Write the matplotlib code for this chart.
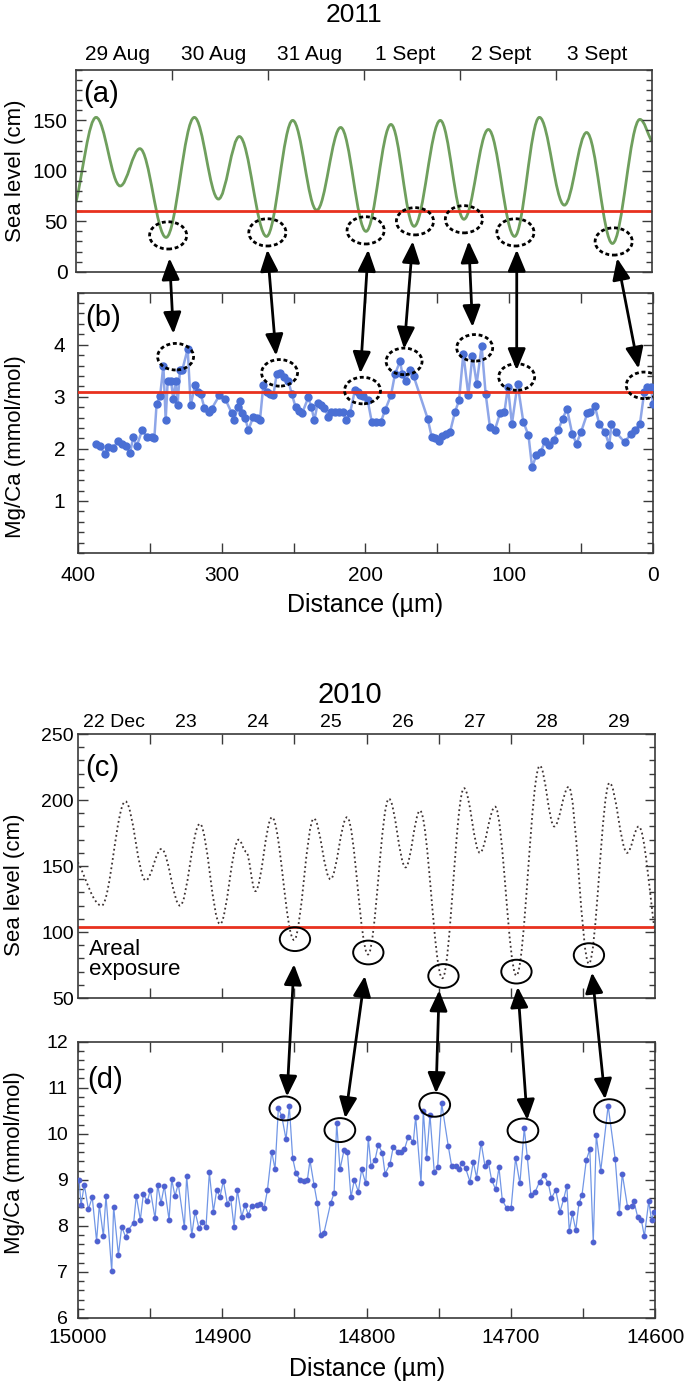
import matplotlib
matplotlib.use("Agg")
import matplotlib.pyplot as plt
import matplotlib.transforms as mtransforms
from matplotlib.path import Path
from matplotlib.patches import PathPatch, Ellipse, ConnectionPatch
from matplotlib.ticker import MultipleLocator, FixedLocator

plt.rcParams['font.family'] = ['Liberation Sans', 'DejaVu Sans']

# ---- 2011: tide turning points (days from 29 Aug 00:00, cm)
a_day = [0.0, 0.209, 0.46, 0.665, 0.938, 1.233, 1.484, 1.702, 1.985, 2.258,
         2.508, 2.758, 3.022, 3.282, 3.523, 3.796, 4.042, 4.297, 4.57, 4.829,
         5.089, 5.321, 5.59, 5.876, 6.0]
a_level = [69, 153, 85, 122, 34, 153, 72, 134, 35, 150,
           61, 143, 40, 146, 45, 150, 52, 141, 35, 153,
           66, 138, 28, 151, 129]
a_dates = ['29 Aug', '30 Aug', '31 Aug', '1 Sept', '2 Sept', '3 Sept']

# ---- 2011: Mg/Ca profile
b_dist = [387.6, 384.6, 381.1, 378.8, 375.3, 371.8, 369.5, 366.7, 363.7, 361.4,
          359.1, 355.1, 352.1, 348.6, 346.8, 345.2, 342.8, 340.5, 338.9, 337.5,
          335.2, 333.6, 332.0, 330.6, 329.0, 327.3, 323.6, 321.5, 318.5, 316.2,
          314.6, 312.0, 308.8, 306.9, 301.5, 297.5, 293.0, 291.2, 288.8, 287.2,
          285.6, 283.7, 281.4, 278.0, 275.6, 273.3, 271.0, 268.7, 266.4, 264.0,
          261.7, 259.4, 256.4, 253.6, 251.3, 248.5, 246.2, 243.9, 239.7, 237.6,
          235.5, 233.2, 230.9, 228.6, 225.8, 224.0, 221.1, 218.4, 215.4, 213.7,
          210.7, 207.2, 205.4, 203.8, 201.4, 198.4, 195.6, 192.9, 189.2, 186.4,
          182.2, 179.4, 175.9, 174.3, 172.0, 169.0, 166.5, 156.7, 153.9, 151.6,
          148.8, 146.5, 144.2, 141.2, 137.7, 134.9, 131.9, 128.4, 125.6, 122.6,
          119.2, 116.4, 113.4, 109.9, 106.4, 103.3, 100.9, 98.1, 94.2, 90.2,
          86.6, 84.1, 81.1, 78.1, 75.0, 72.0, 69.0, 65.9, 62.9, 59.8,
          56.2, 53.2, 50.1, 45.6, 43.5, 40.4, 37.4, 33.4, 30.4, 28.9,
          25.8, 19.8, 15.2, 12.2, 9.1, 6.1, 4.0, 1.5, 0.0]
b_mgca = [2.10, 2.05, 1.90, 2.04, 2.02, 2.16, 2.09, 2.05, 1.92, 2.23,
          2.05, 2.37, 2.23, 2.22, 2.20, 2.87, 3.01, 3.60, 2.56, 3.30,
          3.31, 2.95, 3.31, 2.85, 3.51, 3.52, 3.92, 2.84, 3.22, 3.09,
          3.06, 2.79, 2.71, 2.77, 3.03, 2.96, 2.69, 2.56, 2.80, 2.91,
          2.69, 2.60, 2.36, 2.62, 2.60, 2.56, 3.22, 3.10, 3.06, 3.03,
          3.44, 3.45, 3.38, 3.31, 3.06, 2.80, 2.73, 2.69, 2.99, 2.80,
          2.55, 2.88, 2.85, 2.79, 2.62, 2.71, 2.71, 2.71, 2.71, 2.56,
          2.69, 3.14, 3.09, 3.03, 3.01, 2.93, 2.52, 2.52, 2.52, 2.74,
          3.03, 3.44, 3.68, 3.44, 3.30, 3.51, 3.40, 2.58, 2.23, 2.20,
          2.16, 2.24, 2.29, 2.32, 2.71, 2.93, 3.83, 3.03, 3.79, 3.25,
          3.98, 3.06, 2.42, 2.37, 2.68, 2.71, 3.19, 2.48, 3.25, 2.52,
          2.26, 1.65, 1.88, 1.94, 2.15, 2.07, 2.18, 2.36, 2.58, 2.77,
          2.29, 2.10, 2.32, 2.69, 2.71, 2.82, 2.48, 2.32, 2.07, 2.48,
          2.32, 2.13, 2.29, 2.36, 2.48, 3.09, 3.19, 3.19, 2.87]

# ---- 2010: tide turning points (days from 22 Dec 00:00, cm)
c_day = [0.0, 0.33, 0.66, 0.94, 1.16, 1.416, 1.69, 1.97, 2.23, 2.33,
         2.46, 2.69, 2.995, 3.27, 3.50, 3.73, 4.02, 4.31, 4.54, 4.74,
         5.05, 5.35, 5.57, 5.78, 6.075, 6.40, 6.60, 6.80, 7.08, 7.365,
         7.61, 7.77, 8.0]
c_level = [153, 120, 199, 139, 163, 120, 182, 106, 170, 161,
           131, 187, 94, 186, 140, 187, 83, 201, 149, 192,
           65, 209, 160, 195, 67, 226, 180, 210, 76, 213,
           160, 180, 98]
c_dates = ['22 Dec', '23', '24', '25', '26', '27', '28', '29']

# ---- 2010: Mg/Ca profile
d_dist = [14999.1, 14997.8, 14995.5, 14992.7, 14990.0, 14987.0, 14985.1, 14982.3, 14980.5, 14976.5,
          14975.2, 14971.9, 14969.6, 14966.8, 14965.0, 14961.3, 14959.5, 14956.7, 14954.6, 14951.8,
          14949.8, 14946.5, 14944.7, 14942.4, 14940.1, 14936.8, 14935.0, 14932.7, 14930.4, 14926.2,
          14924.6, 14921.1, 14918.8, 14916.1, 14913.8,
          14911.2, 14908.9, 14906.1, 14903.8, 14901.5, 14899.2, 14896.4, 14894.1, 14891.8, 14889.5,
          14886.5, 14884.2, 14881.9, 14879.6, 14876.1, 14873.8, 14871.0, 14868.7, 14865.7, 14863.4,
          14861.1, 14858.8, 14855.8, 14853.5, 14851.2, 14848.9, 14846.1, 14843.3, 14841.0, 14839.2,
          14836.4, 14834.1, 14831.8, 14829.5, 14824.9, 14822.5, 14820.7, 14818.4, 14815.6, 14813.3,
          14810.8, 14808.5, 14805.7, 14803.4, 14800.6, 14798.8, 14796.9, 14794.2, 14791.9, 14789.1,
          14787.2, 14783.8, 14781.5, 14778.5, 14776.1, 14773.8, 14771.1, 14767.6, 14766.0, 14762.3,
          14760.7, 14758.4, 14756.1, 14753.1, 14750.8, 14748.0, 14743.4, 14741.1, 14738.3, 14736.0,
          14733.7, 14731.4, 14728.4, 14726.1, 14723.8, 14720.7, 14718.0, 14715.7, 14713.4, 14710.6,
          14708.3, 14706.0,
          14702.9, 14699.9, 14696.8, 14693.8, 14690.8, 14688.7, 14686.2, 14683.2, 14680.2, 14677.2,
          14674.1, 14672.0, 14669.0, 14666.0, 14663.5, 14661.3, 14659.6, 14657.5, 14655.1, 14652.9,
          14650.8, 14647.8, 14645.4, 14643.0, 14640.9, 14637.8, 14632.7, 14627.8, 14624.9, 14622.9,
          14619.3, 14616.3, 14614.8, 14612.3, 14609.7, 14607.6, 14604.6, 14602.6, 14600.8]
d_mgca = [9.00, 8.45, 8.89, 8.36, 8.62, 7.67, 8.45, 7.78, 8.65, 7.01,
          8.42, 7.37, 7.98, 7.75, 7.91, 8.07, 8.65, 8.13, 8.69, 8.53,
          8.78, 8.16, 8.89, 8.49, 8.87, 8.13, 9.01, 8.65, 8.91, 7.97,
          9.08, 7.80, 8.31, 7.95, 8.09,
          7.98, 9.16, 8.31, 8.78, 8.63, 8.98, 8.48, 8.60, 7.98, 8.78,
          8.20, 8.45, 8.24, 8.43, 8.45, 8.48, 8.38, 8.77, 9.61, 9.23,
          10.55, 10.39, 9.88, 10.60, 9.47, 9.14, 9.00, 8.98, 9.00, 9.42,
          8.89, 8.49, 7.80, 7.85, 8.49, 8.71, 10.24, 9.23, 9.65, 9.61,
          8.62, 9.00, 8.74, 9.23, 8.92, 9.90, 9.30, 9.43, 9.76, 9.59,
          9.13, 9.34, 9.72, 9.61, 9.61, 9.66, 9.94, 9.83, 10.37, 8.94,
          10.50, 9.47, 10.41, 9.16, 9.27, 10.66, 9.73, 9.30, 9.30, 9.23,
          9.36, 9.25, 8.96, 9.39, 9.05, 9.81, 9.30, 9.39, 9.00, 8.79,
          9.27, 8.56,
          8.38, 8.38, 9.47, 8.92, 10.12, 9.50, 8.67, 8.74, 8.96, 9.10,
          8.92, 8.60, 8.78, 8.31, 8.58, 8.87, 7.88, 8.27, 7.91, 8.49,
          8.67, 9.43, 9.66, 7.64, 9.97, 9.20, 10.61, 9.45, 8.29, 9.13,
          8.42, 8.43, 8.53, 8.20, 8.13, 7.77, 8.53, 8.13, 8.31]

# thresholds
a_thresh = 60
b_thresh = 3.1
c_thresh = 104

# annotation anchors: circled lows / highs and arrow ends (data coords)
a_circles = [(0.960, 36), (1.994, 39), (3.018, 41), (3.532, 50), (4.042, 52), (4.579, 39), (5.603, 30)]
b_circles = [(332.0, 3.77), (259.7, 3.46), (202.0, 3.12), (173.1, 3.68), (124.0, 3.94), (94.8, 3.38), (6.1, 3.22)]
ab_arrow_top = [(0.974, 13.5), (1.994, 21.9), (3.045, 21.9), (3.509, 30.3), (4.092, 30.3), (4.593, 21.9), (5.639, 13.5)]
ab_arrow_bot = [(333.5, 4.21), (262.1, 3.79), (203.5, 3.45), (173.1, 3.92), (125.5, 4.34), (94.8, 3.51), (10.0, 3.54)]

c_circles = [(3.008, 94.6), (4.024, 84.5), (5.065, 66.7), (6.076, 70.0), (7.08, 82.5)]
d_circles = [(14856.6, 10.55), (14818.5, 10.08), (14752.8, 10.63), (14691.7, 10.07), (14631.8, 10.49)]
cd_arrow_top = [(2.995, 75.6), (3.976, 66.7), (5.005, 55.8), (6.094, 58.4), (7.123, 69.3)]
cd_arrow_bot = [(14855.1, 10.81), (14814.8, 10.34), (14751.9, 10.88), (14688.7, 10.30), (14634.8, 10.75)]


def tide_path(t, v, k=0.36):
    # smooth curve through turning points (flat tangent at each extremum)
    verts = [(t[0], v[0])]
    codes = [Path.MOVETO]
    n = len(t)
    for i in range(n - 1):
        dt = t[i + 1] - t[i]
        dv = v[i + 1] - v[i]
        if i == 0:
            c1 = (t[i] + dt / 3, v[i] + dv / 3)
        else:
            c1 = (t[i] + k * dt, v[i])
        if i + 1 == n - 1:
            c2 = (t[i + 1] - dt / 3, v[i + 1] - dv / 3)
        else:
            c2 = (t[i + 1] - k * dt, v[i + 1])
        verts += [c1, c2, (t[i + 1], v[i + 1])]
        codes += [Path.CURVE4] * 3
    return Path(verts, codes)


def style_axes(ax):
    for s in ax.spines.values():
        s.set_color('#3a3a3a')
        s.set_linewidth(1.2)
    ax.tick_params(which='both', direction='in', color='#3a3a3a', width=1.0)
    ax.tick_params(which='major', length=7)
    ax.tick_params(which='minor', length=4)


fig = plt.figure(figsize=(6.85, 13.85), dpi=100)
ax_a = fig.add_axes([0.111, 0.8038, 0.8405, 0.1457])
ax_b = fig.add_axes([0.1136, 0.6007, 0.8397, 0.1880])
ax_c = fig.add_axes([0.1136, 0.2794, 0.8431, 0.1906])
ax_d = fig.add_axes([0.1136, 0.0484, 0.8431, 0.1995])

# ---------------- (a)
style_axes(ax_a)
ax_a.add_patch(PathPatch(tide_path(a_day, a_level), fill=False,
                         edgecolor='#6f9f5d', lw=2.0))
ax_a.axhline(a_thresh, color='#e8311e', lw=2)
ax_a.set_xlim(0, 6)
ax_a.set_ylim(0, 200)
ax_a.set_xticks([1, 2, 3, 4, 5])
ax_a.tick_params(axis='x', bottom=False, top=True, labelbottom=False, labeltop=False)
ax_a.yaxis.set_major_locator(FixedLocator([0, 50, 100, 150]))
ax_a.yaxis.set_minor_locator(MultipleLocator(10))
ax_a.tick_params(axis='y', which='both', left=True, right=True, labelsize=15, pad=6)
ax_a.set_ylabel('Sea level (cm)', fontsize=16)
ax_a.yaxis.set_label_coords(-0.0877, 0.5)
ax_a.text(0.012, 0.95, '(a)', transform=ax_a.transAxes, fontsize=21, va='top', ha='left')
tr = mtransforms.blended_transform_factory(ax_a.transData, fig.transFigure)
for i, lab in enumerate(a_dates):
    ax_a.text(i + 0.43, 0.9565, lab, transform=tr, fontsize=15, ha='center', va='baseline')
fig.text(0.517, 0.9843, '2011', fontsize=19, ha='center', va='baseline')

# ---------------- (b)
style_axes(ax_b)
ax_b.plot(b_dist, b_mgca, '-o', color='#8ea6e8', lw=1.8, ms=5,
          mfc='#4a6fd4', mec='#4a6fd4', zorder=3)
ax_b.axhline(b_thresh, color='#e8311e', lw=2, zorder=4)
ax_b.set_xlim(400, 0)
ax_b.set_ylim(0, 5)
ax_b.xaxis.set_major_locator(MultipleLocator(100))
ax_b.xaxis.set_minor_locator(MultipleLocator(50))
ax_b.yaxis.set_major_locator(FixedLocator([1, 2, 3, 4]))
ax_b.yaxis.set_minor_locator(MultipleLocator(0.2))
ax_b.tick_params(axis='x', which='both', top=True, bottom=True, length=7)
ax_b.tick_params(axis='x', labelsize=15, pad=9)
ax_b.tick_params(axis='y', which='both', left=True, right=True, labelsize=15, pad=9)
ax_b.set_ylabel('Mg/Ca (mmol/mol)', fontsize=16)
ax_b.yaxis.set_label_coords(-0.0909, 0.41)
ax_b.set_xlabel('Distance (\u00b5m)', fontsize=18)
ax_b.xaxis.set_label_coords(0.5, -0.154)
ax_b.text(0.0125, 0.955, '(b)', transform=ax_b.transAxes, fontsize=21, va='top', ha='left')

# ---------------- (c)
style_axes(ax_c)
ax_c.add_patch(PathPatch(tide_path(c_day, c_level), fill=False,
                         edgecolor='#3d3232', lw=1.3, linestyle=(0, (1.0, 1.6))))
ax_c.axhline(c_thresh, color='#e8311e', lw=2)
ax_c.set_xlim(0, 8)
ax_c.set_ylim(50, 250)
ax_c.set_xticks([1, 2, 3, 4, 5, 6, 7])
ax_c.tick_params(axis='x', bottom=True, top=True, labelbottom=False, labeltop=False)
ax_c.yaxis.set_major_locator(MultipleLocator(50))
ax_c.yaxis.set_minor_locator(MultipleLocator(10))
ax_c.tick_params(axis='y', which='both', left=True, right=True, labelsize=14, pad=3)
ax_c.set_ylabel('Sea level (cm)', fontsize=16)
ax_c.yaxis.set_label_coords(-0.0906, 0.43)
ax_c.text(0.0125, 0.925, '(c)', transform=ax_c.transAxes, fontsize=21, va='top', ha='left')
ax_c.text(0.15, 95, 'Areal\nexposure', fontsize=16, va='top', ha='left', linespacing=0.95)
tr = mtransforms.blended_transform_factory(ax_c.transData, fig.transFigure)
for i, lab in enumerate(c_dates):
    ax_c.text(i + 0.5, 0.4749, lab, transform=tr, fontsize=14, ha='center', va='baseline')
fig.text(0.510, 0.4926, '2010', fontsize=21, ha='center', va='baseline')

# ---------------- (d)
style_axes(ax_d)
ax_d.plot(d_dist, d_mgca, '-o', color='#7196e6', lw=0.9, ms=3.2,
          mfc='#4467d0', mec='#5560d0', zorder=3)
ax_d.set_xlim(15000, 14600)
ax_d.set_ylim(6, 12)
ax_d.xaxis.set_major_locator(MultipleLocator(100))
ax_d.xaxis.set_minor_locator(MultipleLocator(50))
ax_d.yaxis.set_major_locator(MultipleLocator(1))
ax_d.yaxis.set_minor_locator(MultipleLocator(0.2))
ax_d.tick_params(axis='x', which='both', top=True, bottom=True, length=7)
ax_d.tick_params(axis='x', labelsize=15, pad=7)
ax_d.tick_params(axis='y', which='both', left=True, right=True, labelsize=14, pad=7)
ax_d.set_ylabel('Mg/Ca (mmol/mol)', fontsize=16)
ax_d.yaxis.set_label_coords(-0.0906, 0.563)
ax_d.set_xlabel('Distance (\u00b5m)', fontsize=18)
ax_d.xaxis.set_label_coords(0.5, -0.14)
ax_d.text(0.017, 0.912, '(d)', transform=ax_d.transAxes, fontsize=21, va='top', ha='left')

# ---------------- circles
for (x, y) in a_circles:
    ax_a.add_patch(Ellipse((x, y), 0.387, 27, fill=False, ec='k', lw=2,
                           ls=(0, (1.4, 1.0)), zorder=5))
for (x, y) in b_circles:
    ax_b.add_patch(Ellipse((x, y), 25, 0.51, fill=False, ec='k', lw=2,
                           ls=(0, (1.4, 1.0)), zorder=5))
for (x, y) in c_circles:
    ax_c.add_patch(Ellipse((x, y), 0.42, 18, fill=False, ec='k', lw=1.4, zorder=5))
for (x, y) in d_circles:
    ax_d.add_patch(Ellipse((x, y), 21.3, 0.52, fill=False, ec='k', lw=1.4, zorder=5))

# ---------------- linking arrows
for top, bot in zip(ab_arrow_top, ab_arrow_bot):
    con = ConnectionPatch(xyA=top, coordsA=ax_a.transData, xyB=bot, coordsB=ax_b.transData,
                          arrowstyle='<|-|>,head_length=0.65,head_width=0.27',
                          mutation_scale=20, lw=2.0, color='k', shrinkA=0, shrinkB=0)
    fig.add_artist(con)
for top, bot in zip(cd_arrow_top, cd_arrow_bot):
    con = ConnectionPatch(xyA=top, coordsA=ax_c.transData, xyB=bot, coordsB=ax_d.transData,
                          arrowstyle='<|-|>,head_length=0.62,head_width=0.27',
                          mutation_scale=20, lw=2.0, color='k', shrinkA=0, shrinkB=0)
    fig.add_artist(con)

fig.savefig('out.png', dpi=100)
